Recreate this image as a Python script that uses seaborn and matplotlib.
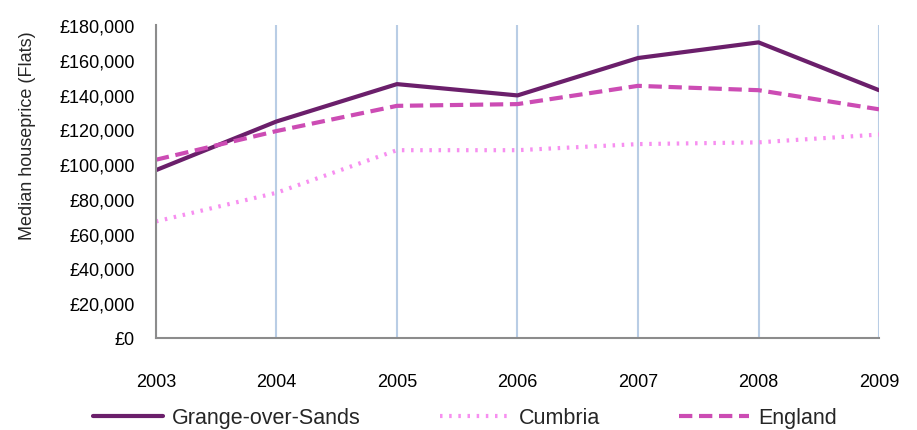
import pandas as pd
import matplotlib
matplotlib.use("Agg")
import matplotlib.pyplot as plt
import matplotlib.ticker as mticker
import seaborn as sns

# Data
years = [2003, 2004, 2005, 2006, 2007, 2008, 2009]
grange = [96500, 124500, 146000, 139500, 161000, 170000, 142500]
cumbria = [67000, 83500, 108000, 108000, 111500, 112500, 117000]
england = [102500, 119000, 133500, 134500, 145000, 142500, 131500]

series_names = ["Grange-over-Sands", "Cumbria", "England"]
series_colors = ["#6B1F6B", "#F78FF0", "#CC4CB4"]
series_styles = ["-", (0, (0.6, 1.6)), (0, (3.2, 1.6))]

df = pd.DataFrame({"Year": years, "Grange-over-Sands": grange,
                   "Cumbria": cumbria, "England": england})

sns.set_style("white")
plt.rcParams["font.family"] = ["Liberation Sans", "DejaVu Sans"]

fig = plt.figure(figsize=(9.17, 4.31), dpi=100)
ax = fig.add_axes([0.170, 0.2135, 0.7886, 0.7262])

for name, col, ls in zip(series_names, series_colors, series_styles):
    sns.lineplot(data=df, x="Year", y=name, ax=ax, color=col, linewidth=3,
                 label=name, linestyle=ls)

ax.set_xlim(2003, 2009)
ax.set_ylim(0, 180000)
ax.set_xticks(years)
ax.set_yticks(range(0, 180001, 20000))
ax.yaxis.set_major_formatter(mticker.FuncFormatter(lambda v, p: "£{:,.0f}".format(v)))

ax.grid(axis="x", color="#B9CDE5", linewidth=1.5)
ax.grid(axis="y", visible=False)
ax.set_axisbelow(True)

for s in ["top", "right"]:
    ax.spines[s].set_visible(False)
for s in ["left", "bottom"]:
    ax.spines[s].set_color("#8C8C8C")
    ax.spines[s].set_linewidth(1.5)

ax.tick_params(axis="both", direction="out", length=5, width=1.2, color="#8C8C8C",
               labelsize=13, labelcolor="black")
ax.tick_params(axis="x", pad=20)
ax.tick_params(axis="y", pad=10)
ax.set_xlabel("")
ax.set_ylabel("Median houseprice (Flats)", fontsize=13)
ax.yaxis.set_label_coords(-0.166, 0.649)

ax.get_legend().remove()
handles, labels = ax.get_legend_handles_labels()
fig.legend(handles, labels, loc="center", bbox_to_anchor=(0.507, 0.028),
           bbox_transform=fig.transFigure, ncol=3, frameon=False,
           fontsize=15.5, handlelength=3.25, columnspacing=3.7, handletextpad=0.4)

plt.savefig("out.png", dpi=100)
